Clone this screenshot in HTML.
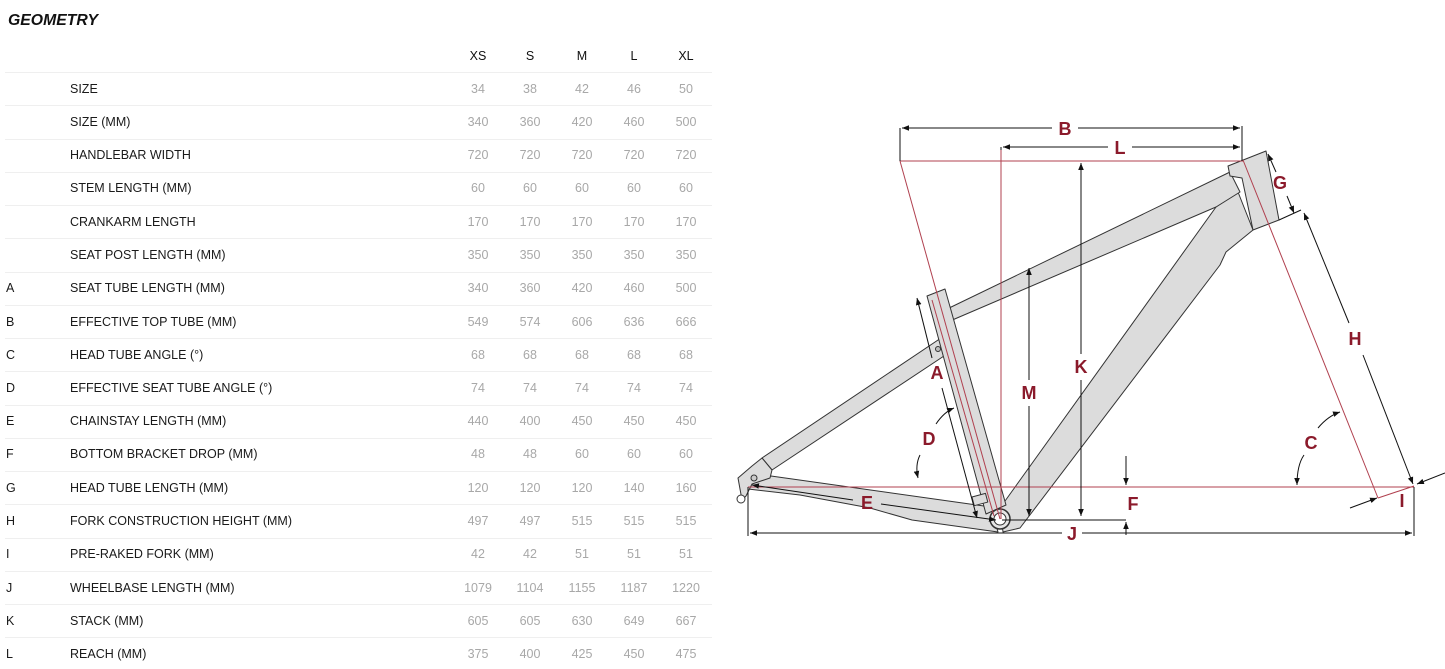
<!DOCTYPE html>
<html><head><meta charset="utf-8"><style>
html,body{margin:0;padding:0;background:#fff;}
svg{display:block;}
.h{font-family:"Liberation Sans",sans-serif;font-size:12.5px;fill:#111;}
.lb{font-family:"Liberation Sans",sans-serif;font-size:12.5px;fill:#1a1a1a;}
.v{font-family:"Liberation Sans",sans-serif;font-size:12.5px;fill:#a8a8a8;text-anchor:middle;}
.d{font-family:"Liberation Sans",sans-serif;font-size:18px;font-weight:bold;fill:#8b1a2b;text-anchor:middle;}
</style></head><body>
<svg width="1445" height="669" viewBox="0 0 1445 669" xmlns="http://www.w3.org/2000/svg">
<defs>
<marker id="a" viewBox="0 0 10 10" refX="10" refY="5" markerWidth="7" markerHeight="7" orient="auto-start-reverse"><path d="M0,1 L10,5 L0,9 z" fill="#111"/></marker>
</defs>
<text x="8" y="25" textLength="90" lengthAdjust="spacingAndGlyphs" style="font-family:'Liberation Sans',sans-serif;font-size:16px;font-weight:bold;font-style:italic;fill:#111">GEOMETRY</text>
<g class="h" text-anchor="middle">
<text x="478" y="60">XS</text><text x="530" y="60">S</text><text x="582" y="60">M</text><text x="634" y="60">L</text><text x="686" y="60">XL</text>
</g>
<g stroke="#efefef" stroke-width="1">
<line x1="5" y1="72.5" x2="712" y2="72.5"/><line x1="5" y1="105.5" x2="712" y2="105.5"/><line x1="5" y1="139.5" x2="712" y2="139.5"/><line x1="5" y1="172.5" x2="712" y2="172.5"/><line x1="5" y1="205.5" x2="712" y2="205.5"/><line x1="5" y1="238.5" x2="712" y2="238.5"/><line x1="5" y1="272.5" x2="712" y2="272.5"/><line x1="5" y1="305.5" x2="712" y2="305.5"/><line x1="5" y1="338.5" x2="712" y2="338.5"/><line x1="5" y1="371.5" x2="712" y2="371.5"/><line x1="5" y1="405.5" x2="712" y2="405.5"/><line x1="5" y1="438.5" x2="712" y2="438.5"/><line x1="5" y1="471.5" x2="712" y2="471.5"/><line x1="5" y1="504.5" x2="712" y2="504.5"/><line x1="5" y1="538.5" x2="712" y2="538.5"/><line x1="5" y1="571.5" x2="712" y2="571.5"/><line x1="5" y1="604.5" x2="712" y2="604.5"/><line x1="5" y1="637.5" x2="712" y2="637.5"/>
</g>
<g>
<text class="lb" x="70" y="93">SIZE</text><text class="v" x="478" y="93">34</text><text class="v" x="530" y="93">38</text><text class="v" x="582" y="93">42</text><text class="v" x="634" y="93">46</text><text class="v" x="686" y="93">50</text>
<text class="lb" x="70" y="126">SIZE (MM)</text><text class="v" x="478" y="126">340</text><text class="v" x="530" y="126">360</text><text class="v" x="582" y="126">420</text><text class="v" x="634" y="126">460</text><text class="v" x="686" y="126">500</text>
<text class="lb" x="70" y="159">HANDLEBAR WIDTH</text><text class="v" x="478" y="159">720</text><text class="v" x="530" y="159">720</text><text class="v" x="582" y="159">720</text><text class="v" x="634" y="159">720</text><text class="v" x="686" y="159">720</text>
<text class="lb" x="70" y="192">STEM LENGTH (MM)</text><text class="v" x="478" y="192">60</text><text class="v" x="530" y="192">60</text><text class="v" x="582" y="192">60</text><text class="v" x="634" y="192">60</text><text class="v" x="686" y="192">60</text>
<text class="lb" x="70" y="226">CRANKARM LENGTH</text><text class="v" x="478" y="226">170</text><text class="v" x="530" y="226">170</text><text class="v" x="582" y="226">170</text><text class="v" x="634" y="226">170</text><text class="v" x="686" y="226">170</text>
<text class="lb" x="70" y="259">SEAT POST LENGTH (MM)</text><text class="v" x="478" y="259">350</text><text class="v" x="530" y="259">350</text><text class="v" x="582" y="259">350</text><text class="v" x="634" y="259">350</text><text class="v" x="686" y="259">350</text>
<text class="lb" x="6" y="292">A</text><text class="lb" x="70" y="292">SEAT TUBE LENGTH (MM)</text><text class="v" x="478" y="292">340</text><text class="v" x="530" y="292">360</text><text class="v" x="582" y="292">420</text><text class="v" x="634" y="292">460</text><text class="v" x="686" y="292">500</text>
<text class="lb" x="6" y="326">B</text><text class="lb" x="70" y="326">EFFECTIVE TOP TUBE (MM)</text><text class="v" x="478" y="326">549</text><text class="v" x="530" y="326">574</text><text class="v" x="582" y="326">606</text><text class="v" x="634" y="326">636</text><text class="v" x="686" y="326">666</text>
<text class="lb" x="6" y="359">C</text><text class="lb" x="70" y="359">HEAD TUBE ANGLE (°)</text><text class="v" x="478" y="359">68</text><text class="v" x="530" y="359">68</text><text class="v" x="582" y="359">68</text><text class="v" x="634" y="359">68</text><text class="v" x="686" y="359">68</text>
<text class="lb" x="6" y="392">D</text><text class="lb" x="70" y="392">EFFECTIVE SEAT TUBE ANGLE (°)</text><text class="v" x="478" y="392">74</text><text class="v" x="530" y="392">74</text><text class="v" x="582" y="392">74</text><text class="v" x="634" y="392">74</text><text class="v" x="686" y="392">74</text>
<text class="lb" x="6" y="425">E</text><text class="lb" x="70" y="425">CHAINSTAY LENGTH (MM)</text><text class="v" x="478" y="425">440</text><text class="v" x="530" y="425">400</text><text class="v" x="582" y="425">450</text><text class="v" x="634" y="425">450</text><text class="v" x="686" y="425">450</text>
<text class="lb" x="6" y="458">F</text><text class="lb" x="70" y="458">BOTTOM BRACKET DROP (MM)</text><text class="v" x="478" y="458">48</text><text class="v" x="530" y="458">48</text><text class="v" x="582" y="458">60</text><text class="v" x="634" y="458">60</text><text class="v" x="686" y="458">60</text>
<text class="lb" x="6" y="492">G</text><text class="lb" x="70" y="492">HEAD TUBE LENGTH (MM)</text><text class="v" x="478" y="492">120</text><text class="v" x="530" y="492">120</text><text class="v" x="582" y="492">120</text><text class="v" x="634" y="492">140</text><text class="v" x="686" y="492">160</text>
<text class="lb" x="6" y="525">H</text><text class="lb" x="70" y="525">FORK CONSTRUCTION HEIGHT (MM)</text><text class="v" x="478" y="525">497</text><text class="v" x="530" y="525">497</text><text class="v" x="582" y="525">515</text><text class="v" x="634" y="525">515</text><text class="v" x="686" y="525">515</text>
<text class="lb" x="6" y="558">I</text><text class="lb" x="70" y="558">PRE-RAKED FORK (MM)</text><text class="v" x="478" y="558">42</text><text class="v" x="530" y="558">42</text><text class="v" x="582" y="558">51</text><text class="v" x="634" y="558">51</text><text class="v" x="686" y="558">51</text>
<text class="lb" x="6" y="592">J</text><text class="lb" x="70" y="592">WHEELBASE LENGTH (MM)</text><text class="v" x="478" y="592">1079</text><text class="v" x="530" y="592">1104</text><text class="v" x="582" y="592">1155</text><text class="v" x="634" y="592">1187</text><text class="v" x="686" y="592">1220</text>
<text class="lb" x="6" y="625">K</text><text class="lb" x="70" y="625">STACK (MM)</text><text class="v" x="478" y="625">605</text><text class="v" x="530" y="625">605</text><text class="v" x="582" y="625">630</text><text class="v" x="634" y="625">649</text><text class="v" x="686" y="625">667</text>
<text class="lb" x="6" y="658">L</text><text class="lb" x="70" y="658">REACH (MM)</text><text class="v" x="478" y="658">375</text><text class="v" x="530" y="658">400</text><text class="v" x="582" y="658">425</text><text class="v" x="634" y="658">450</text><text class="v" x="686" y="658">475</text>
</g>

<g fill="#dcdcdc" stroke="#333" stroke-width="1" stroke-linejoin="round">
<path d="M748,480 L771,476 L991,507 L998,532 L912,520 L870,508 L800,495 L748,489 Z"/>
<path d="M762,458 L944,336 Q953,345 950,352 L772,470 Z"/>
<path d="M738,478 L752,466 L762,458 L772,470 L770,478 L752,484 L746,496 L742,500 Z"/>
<circle cx="754" cy="478" r="3" fill="#ccc"/>
<circle cx="741" cy="499" r="4" fill="#fff"/>
<path d="M1216,207 L1238,192 L1253,230 L1226,252 L1220,265 L1020,528 L1003,532 L1000,508 Z"/>
<path d="M1230,172 L945,310 Q940,318 950,321 L1216,207 L1240,192 Z"/>
<path d="M1228,166 L1266,151 L1279,220 L1253,230 L1242,178 L1230,176 Z"/>
<path d="M927,296 L945,289 L1006,505 L986,514 Z"/>
<rect x="973" y="495" width="14" height="9" transform="rotate(-15 980 500)"/>
<circle cx="1000" cy="519" r="10" fill="#e6e6e6" stroke-width="1.5"/>
<circle cx="1000" cy="519" r="6" fill="#fff"/>
<circle cx="938" cy="349" r="2.5" fill="#bbb"/>
</g>

<g stroke="#b0404f" stroke-width="1" fill="none">
<line x1="900" y1="161" x2="1243" y2="161"/>
<line x1="900" y1="161" x2="1000" y2="519"/>
<line x1="1001" y1="147" x2="1001" y2="519"/>
<line x1="748" y1="487" x2="1414" y2="487"/>
<line x1="1243" y1="160" x2="1378" y2="498"/>
<line x1="1378" y1="498" x2="1414" y2="486"/>
<line x1="932" y1="300" x2="994" y2="516"/>
</g>

<g stroke="#111" stroke-width="1" fill="none">
<line x1="900" y1="128" x2="900" y2="161"/>
<line x1="1242" y1="126" x2="1242" y2="161"/>
<line x1="902" y1="128" x2="1052" y2="128" marker-start="url(#a)"/>
<line x1="1078" y1="128" x2="1240" y2="128" marker-end="url(#a)"/>
<line x1="1001" y1="147" x2="1001" y2="150"/>
<line x1="1003" y1="147" x2="1108" y2="147" marker-start="url(#a)"/>
<line x1="1132" y1="147" x2="1240" y2="147" marker-end="url(#a)"/>
<line x1="1081" y1="163" x2="1081" y2="354" marker-start="url(#a)"/>
<line x1="1081" y1="380" x2="1081" y2="516" marker-end="url(#a)"/>
<line x1="1029" y1="268" x2="1029" y2="380" marker-start="url(#a)"/>
<line x1="1029" y1="406" x2="1029" y2="516" marker-end="url(#a)"/>
<line x1="1002" y1="520" x2="1126" y2="520"/>
<line x1="1126" y1="456" x2="1126" y2="485" marker-end="url(#a)"/>
<line x1="1126" y1="535" x2="1126" y2="522" marker-end="url(#a)"/>
<line x1="748" y1="487" x2="748" y2="536"/>
<line x1="1414" y1="487" x2="1414" y2="536"/>
<line x1="750" y1="533" x2="1062" y2="533" marker-start="url(#a)"/>
<line x1="1082" y1="533" x2="1412" y2="533" marker-end="url(#a)"/>
<line x1="1279" y1="220" x2="1301" y2="210"/>
<line x1="1268" y1="154" x2="1276" y2="172" marker-start="url(#a)"/>
<line x1="1287" y1="196" x2="1294" y2="213" marker-end="url(#a)"/>
<line x1="1304" y1="213" x2="1349" y2="323" marker-start="url(#a)"/>
<line x1="1363" y1="355" x2="1413" y2="484" marker-end="url(#a)"/>
<line x1="1350" y1="508" x2="1377" y2="498" marker-end="url(#a)"/>
<line x1="1445" y1="473" x2="1417" y2="484" marker-end="url(#a)"/>
<path d="M1297,485 Q1297,465 1304,455" marker-start="url(#a)"/>
<path d="M1318,428 Q1328,416 1340,412" marker-end="url(#a)"/>
<path d="M918,478 Q915,465 920,455" marker-start="url(#a)"/>
<path d="M936,424 Q944,412 954,408" marker-end="url(#a)"/>
<line x1="917" y1="298" x2="932" y2="358" marker-start="url(#a)"/>
<line x1="942" y1="388" x2="977" y2="518" marker-end="url(#a)"/>
<line x1="752" y1="485" x2="853" y2="500" marker-start="url(#a)"/>
<line x1="881" y1="504" x2="996" y2="520" marker-end="url(#a)"/>
</g>

<g class="d">
<text x="1065" y="135">B</text>
<text x="1120" y="154">L</text>
<text x="1280" y="189">G</text>
<text x="1081" y="373">K</text>
<text x="1029" y="399">M</text>
<text x="1355" y="345">H</text>
<text x="937" y="379">A</text>
<text x="929" y="445">D</text>
<text x="1311" y="449">C</text>
<text x="867" y="509">E</text>
<text x="1133" y="510">F</text>
<text x="1072" y="540">J</text>
<text x="1402" y="507">I</text>
</g>
</svg>
</body></html>
